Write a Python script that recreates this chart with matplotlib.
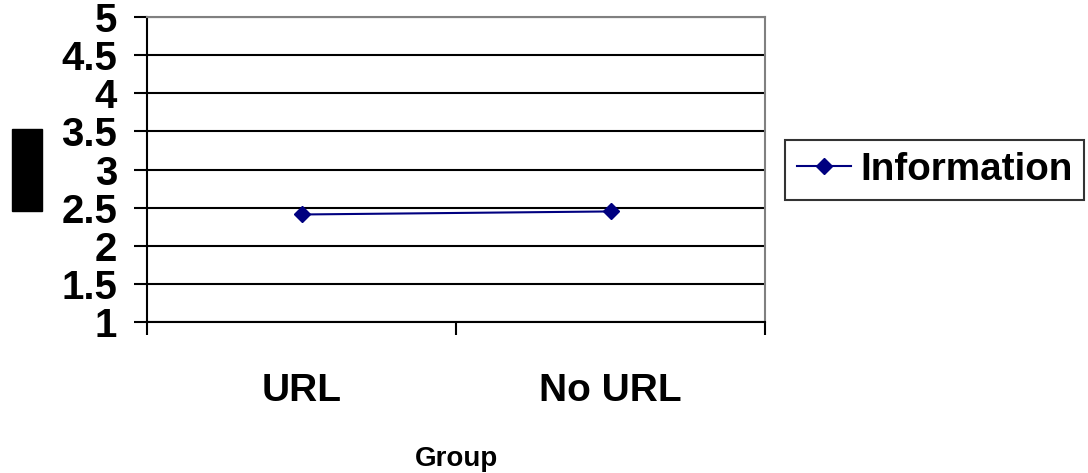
import matplotlib.pyplot as plt
from matplotlib.patches import Rectangle
import numpy as np

groups = ['URL', 'No URL']
information = [2.41, 2.45]
y_ticks = [1, 1.5, 2, 2.5, 3, 3.5, 4, 4.5, 5]

plt.rcParams['font.family'] = ['Liberation Sans', 'DejaVu Sans']
plt.rcParams['font.weight'] = 'bold'

fig = plt.figure(figsize=(10.88, 4.73), dpi=100)
ax = fig.add_axes([147/1088, 1 - 322/473, 618/1088, 305/473])

x = np.arange(len(groups)) + 0.5
ax.plot(x, information, color='#000080', lw=1.5, marker='D', ms=8,
        mfc='#000080', mec='#000080', label='Information')

ax.set_xlim(0, len(groups))
ax.set_ylim(min(y_ticks), max(y_ticks))

# horizontal gridlines at every y tick
ax.set_yticks(y_ticks)
ax.set_yticklabels(['%g' % v for v in y_ticks])
ax.yaxis.grid(True, color='black', lw=1.5)
ax.set_axisbelow(True)

# category boundaries get tick marks, labels sit between them
ax.set_xticks(np.arange(len(groups) + 1))
ax.set_xticklabels([])
ax.set_xticks(x, minor=True)
ax.set_xticklabels(groups, minor=True)
ax.tick_params(axis='x', which='major', length=9, width=1.5, direction='out')
ax.tick_params(axis='x', which='minor', length=0, pad=37, labelsize=28)
ax.tick_params(axis='y', length=9.5, width=1.5, direction='out', pad=12,
               labelsize=29)

for side in ['left', 'bottom']:
    ax.spines[side].set_color('black')
    ax.spines[side].set_linewidth(1.5)
for side in ['top', 'right']:
    ax.spines[side].set_color('#808080')
    ax.spines[side].set_linewidth(1.5)

ax.set_xlabel('Group', fontsize=20, fontweight='bold')
ax.xaxis.set_label_coords(0.5016, -0.405)

leg = ax.legend(loc='center left', bbox_to_anchor=(785/1088, 1 - 170/473),
                bbox_transform=fig.transFigure, fontsize=27.8, frameon=True,
                fancybox=False, handlelength=1.4, handletextpad=0.25,
                borderpad=0.3, borderaxespad=0, markerscale=1.0)
leg.get_frame().set_edgecolor('black')
leg.get_frame().set_linewidth(1.5)

# filled block left of the y axis
fig.patches.append(Rectangle((12/1088, 1 - 211/473), 30/1088, 82/473,
                             transform=fig.transFigure, color='black'))

fig.savefig('out.png', dpi=100)
